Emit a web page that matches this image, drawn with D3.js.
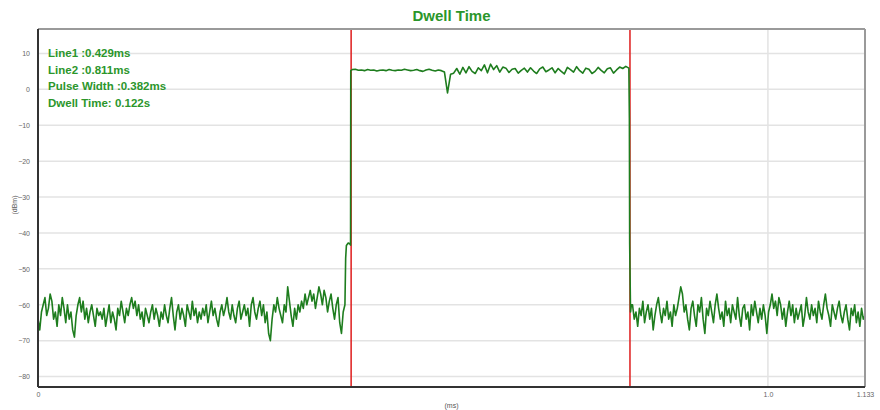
<!DOCTYPE html>
<html>
<head>
<meta charset="utf-8">
<script src="https://cdn.jsdelivr.net/npm/d3@7/dist/d3.min.js"></script>
<style>
  html, body { margin: 0; padding: 0; background: #fff; }
  svg { display: block; font-family: "Liberation Sans", Arial, sans-serif; }
</style>
</head>
<body>
<svg id="chart" width="880" height="410"></svg>
<script>
// ---- measurement data (time in ms, level in dBm) ----
const title = "Dwell Time";
const line1 = 0.429;
const line2 = 0.811;
const pulseWidth = 0.382;
const dwellTime = 0.122;
const readouts = [
  "Line1 :" + line1.toFixed(3) + "ms",
  "Line2 :" + line2.toFixed(3) + "ms",
  "Pulse Width :" + pulseWidth.toFixed(3) + "ms",
  "Dwell Time: " + dwellTime.toFixed(3) + "s"
];

const yTicks = [10, 0, -10, -20, -30, -40, -50, -60, -70, -80];
const xTicks = [0, 1.0, 1.133];
const xTickLabels = ["0", "1.0", "1.133"];
const xDomain = [0, 1.133];
const yDomain = [-82.9, 16.8];

// noise floor before the pulse, evenly sampled over [0, 0.4205] ms
const floorLeftSpan = [0, 0.4205];
const floorLeft = [
  -64, -67, -62, -60, -58, -63, -61, -57, -59, -64, -62, -66, -60,
  -63, -58, -61, -65, -60, -64, -62, -67, -69, -63, -60, -58, -62, -59, -64, -61,
  -65, -62, -60, -63, -66, -61, -63,
  -62, -64, -61, -66, -63, -60, -65, -62, -64, -67, -61, -63, -59, -62, -65, -61,
  -63, -60, -58, -61, -59, -63, -60, -64, -62, -66, -61, -63, -65,
  -62, -60, -64, -61, -63, -66, -62, -64, -60, -63, -65, -61, -58, -63, -67, -62,
  -60, -64, -61, -63, -66, -60, -62, -64, -59, -63, -61, -65, -62,
  -64, -61, -63, -60, -65, -62, -59, -63, -61, -64, -66, -62, -60, -63, -61, -58,
  -62, -64, -60, -63, -65, -61, -59, -64, -62, -60, -63, -61, -66,
  -60, -58, -62, -64, -61, -59, -63, -60, -65, -62, -68, -70, -64, -60, -62, -58,
  -61, -63, -65, -60, -62, -55, -59, -63, -66, -61, -64, -60,
  -62, -59, -61, -57, -60, -58, -56, -59, -57, -61, -58, -55, -57, -60, -56, -58,
  -62, -59, -57, -61, -64, -60, -58, -65, -68, -62, -60
];

// rising edge
const riseT = [0.4215, 0.4225, 0.4250, 0.4270, 0.4282, 0.4285];
const riseV = [-47, -43.5, -42.8, -43.0, -43.4, 5.2];

// pulse top, evenly sampled over [0.4305, 0.8095] ms
const topSpan = [0.4305, 0.8095];
const topLevel = [
  5.5, 5.6, 5.3, 5.4, 5.2, 5.5, 5.3, 5.4, 5.1, 5.3, 5.4, 5.2, 5.5, 5.3, 5.2, 5.4,
  5.3, 5.6, 5.4, 5.2, 5.3, 5.5, 5.2, 5.0, 5.4, 5.6, 5.3, 5.1, 5.4, 5.2, 4.8, -1.0,
  4.2, 4.5, 5.8, 4.2, 6.1, 4.6, 6.3, 5.0, 4.4, 6.0, 5.2, 6.8, 4.6, 7.0, 5.5, 6.6,
  4.8, 6.2, 5.9, 4.7, 5.6, 5.8, 4.5, 5.3, 5.9, 4.8, 6.0, 5.1, 4.4, 5.7, 6.2, 4.9,
  5.4, 6.0, 4.6, 5.8, 5.0, 4.3, 6.1, 5.5, 4.8, 6.3, 5.2, 4.5, 5.9, 5.6, 4.4, 5.0,
  6.1, 5.3, 4.6, 5.7, 6.0, 4.5, 5.4, 6.2, 5.8, 6.4, 5.9
];

// falling edge
const fallT = [0.8102, 0.8106, 0.8110, 0.8118, 0.8130];
const fallV = [-8, -43, -50, -62, -60];

// noise floor after the pulse, evenly sampled over [0.8145, 1.133] ms
const floorRightSpan = [0.8145, 1.133];
const floorRight = [
  -60, -64, -62, -66, -61, -63, -59, -65, -62, -60, -64, -61, -67, -63, -60, -58,
  -62, -65, -61, -63, -59, -64, -62, -66, -60, -63, -61, -58, -55, -57, -62, -60,
  -64, -67, -61, -59, -63, -66, -60, -62, -58, -64, -68, -61, -63, -59, -62, -65,
  -60, -57, -61, -64, -62, -66, -59, -63, -61, -65, -60, -62, -64, -58, -63, -66,
  -61, -60, -64, -62, -67, -60, -63, -59, -62, -65, -61, -64, -60, -63, -68, -62,
  -60, -57, -61, -59, -63, -58, -60, -64, -61, -66, -62, -59, -63, -60, -65, -61,
  -64, -62, -60, -66, -63, -58, -62, -64, -60, -63, -61, -65, -59, -62, -64, -60,
  -57, -61, -63, -66, -60, -62, -64, -61, -59, -63, -65, -62, -60, -64, -67, -61,
  -63, -60, -65, -62, -66, -61, -64, -63
];

// ---- assemble the trace ----
function spread(values, span) {
  const n = values.length;
  return values.map((v, i) => [span[0] + (span[1] - span[0]) * i / (n - 1), v]);
}
const trace = [].concat(
  spread(floorLeft, floorLeftSpan),
  riseT.map((t, i) => [t, riseV[i]]),
  spread(topLevel, topSpan),
  fallT.map((t, i) => [t, fallV[i]]),
  spread(floorRight, floorRightSpan)
);

// ---- layout ----
const margin = { top: 29, right: 15, bottom: 23, left: 38 };
const W = 880, H = 410;
const iw = W - margin.left - margin.right;
const ih = H - margin.top - margin.bottom;

const svg = d3.select("#chart");
const g = svg.append("g").attr("transform", `translate(${margin.left},${margin.top})`);

const x = d3.scaleLinear().domain(xDomain).range([0, iw]);
const y = d3.scaleLinear().domain(yDomain).range([ih, 0]);

// grid
g.append("g").selectAll("line").data(yTicks).join("line")
  .attr("x1", 0).attr("x2", iw)
  .attr("y1", d => y(d)).attr("y2", d => y(d))
  .attr("stroke", "#e3e3e3").attr("stroke-width", 1.5);
g.append("line")
  .attr("x1", x(1.0)).attr("x2", x(1.0))
  .attr("y1", 0).attr("y2", ih)
  .attr("stroke", "#e3e3e3").attr("stroke-width", 1.5);

// y axis labels
const yAxis = d3.axisLeft(y).tickValues(yTicks).tickSize(0).tickPadding(8)
  .tickFormat(d3.format("d"));
const ya = g.append("g").call(yAxis);
ya.select(".domain").remove();
ya.selectAll("text").attr("fill", "#666").style("font-size", "7px");

// x axis labels
const xAxis = d3.axisBottom(x).tickValues(xTicks).tickSize(0).tickPadding(5)
  .tickFormat((d, i) => xTickLabels[i]);
const xa = g.append("g").attr("transform", `translate(0,${ih})`).call(xAxis);
xa.select(".domain").remove();
xa.selectAll("text").attr("fill", "#666").style("font-size", "7px");

// cursor lines
g.append("g").selectAll("line").data([line1, line2]).join("line")
  .attr("x1", d => x(d)).attr("x2", d => x(d))
  .attr("y1", 0).attr("y2", ih)
  .attr("stroke", "#e02a2a").attr("stroke-width", 1.6);

// trace
g.append("path")
  .datum(trace)
  .attr("fill", "none")
  .attr("stroke", "#1e7d1e")
  .attr("stroke-width", 1.6)
  .attr("stroke-linejoin", "round")
  .attr("d", d3.line().x(d => x(d[0])).y(d => y(d[1])));

// frame: dark left/bottom, grey top/right
g.append("line").attr("x1", 0).attr("x2", iw).attr("y1", 0).attr("y2", 0)
  .attr("stroke", "#9a9a9a").attr("stroke-width", 2);
g.append("line").attr("x1", iw).attr("x2", iw).attr("y1", 0).attr("y2", ih)
  .attr("stroke", "#9a9a9a").attr("stroke-width", 2);
g.append("line").attr("x1", 0).attr("x2", 0).attr("y1", 0).attr("y2", ih)
  .attr("stroke", "#333").attr("stroke-width", 2);
g.append("line").attr("x1", 0).attr("x2", iw).attr("y1", ih).attr("y2", ih)
  .attr("stroke", "#333").attr("stroke-width", 2);

// readouts
g.append("g").selectAll("text").data(readouts).join("text")
  .attr("x", 10).attr("y", (d, i) => 28 + i * 16.7)
  .attr("fill", "#2b962b")
  .style("font-size", "11.5px").style("font-weight", "bold")
  .text(d => d);

// title and axis names
svg.append("text")
  .attr("x", margin.left + iw / 2).attr("y", 21)
  .attr("text-anchor", "middle")
  .attr("fill", "#2b962b")
  .style("font-size", "15px").style("font-weight", "bold")
  .text(title);
svg.append("text")
  .attr("x", margin.left + iw / 2).attr("y", 408)
  .attr("text-anchor", "middle")
  .attr("fill", "#555")
  .style("font-size", "7px")
  .text("(ms)");
svg.append("text")
  .attr("transform", "translate(17,205) rotate(-90)")
  .attr("text-anchor", "middle")
  .attr("fill", "#555")
  .style("font-size", "7px")
  .text("(dBm)");
</script>
</body>
</html>
